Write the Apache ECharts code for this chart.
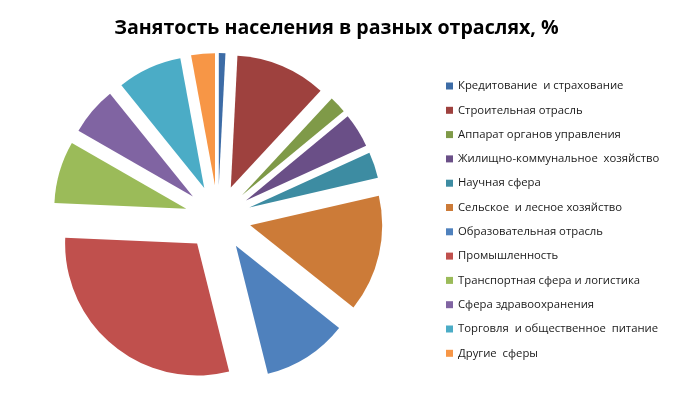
<!DOCTYPE html>
<html>
<head>
<meta charset="utf-8">
<script src="https://cdn.jsdelivr.net/npm/echarts@6/dist/echarts.min.js"></script>
<style>
  html, body { margin: 0; padding: 0; background: #fff; }
  #chart { width: 673px; height: 399px; }
</style>
</head>
<body>
<div id="chart"></div>
<script>
// sectors, clockwise from the top
var categories = [
  'Кредитование  и страхование',
  'Строительная отрасль',
  'Аппарат органов управления',
  'Жилищно-коммунальное  хозяйство',
  'Научная сфера',
  'Сельское  и лесное хозяйство',
  'Образовательная отрасль',
  'Промышленность',
  'Транспортная сфера и логистика',
  'Сфера здравоохранения',
  'Торговля  и общественное  питание',
  'Другие  сферы'
]
var shares = [0.8, 11.1, 2.1, 4.2, 3.2, 14.3, 10.4, 29.6, 7.6, 5.9, 7.9, 2.9]
var colors = [
  '#3D6CA6', '#9E413E', '#7F9A48', '#6A4F87', '#3D8CA2', '#CC7B38',
  '#4F81BD', '#C0504D', '#9BBB59', '#8064A2', '#4BACC6', '#F79646'
]

var chart = echarts.init(document.getElementById('chart'), null, { renderer: 'canvas' })

chart.setOption({
  animation: false,
  color: colors,
  title: {
    text: 'Занятость населения в разных отраслях, %',
    left: 'center',
    top: 13,
    textStyle: {
      fontFamily: 'Open Sans',
      fontSize: 19.6,
      fontWeight: 'bold',
      color: '#000'
    }
  },
  legend: {
    orient: 'vertical',
    left: 441,
    top: 74,
    icon: 'rect',
    itemWidth: 7,
    itemHeight: 7,
    itemGap: 10.3,
    selectedMode: false,
    textStyle: {
      fontFamily: 'Open Sans',
      fontSize: 11.3,
      lineHeight: 14,
      color: '#1a1a1a'
    },
    data: categories
  },
  series: [
    {
      type: 'pie',
      center: [218, 218],
      radius: 132,
      startAngle: 90,
      clockwise: true,
      selectedMode: 'multiple',
      selectedOffset: 33,
      label: { show: false },
      labelLine: { show: false },
      emphasis: { disabled: true },
      select: { itemStyle: { borderWidth: 0 } },
      itemStyle: { borderWidth: 0 },
      data: categories.map(function (name, i) {
        return { name: name, value: shares[i], selected: true }
      })
    }
  ]
})
</script>
</body>
</html>
